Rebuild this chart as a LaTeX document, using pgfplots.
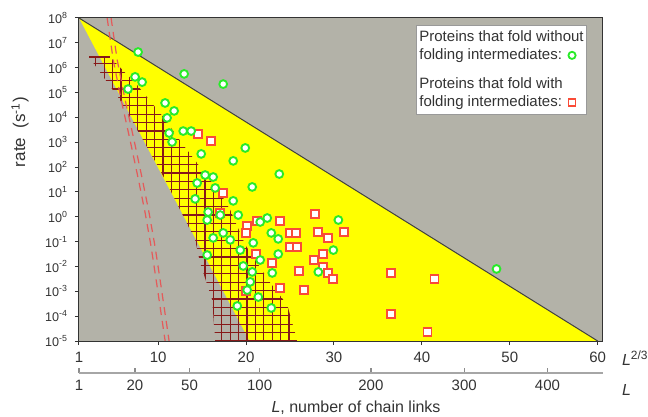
\documentclass[border=0pt]{standalone}
\usepackage{fontspec}
\setmainfont{Liberation Sans}
\usepackage{pgfplots}
\usepackage{pgfplotstable}
\pgfplotsset{compat=1.18}

\definecolor{bggray}{RGB}{179,178,168}
\definecolor{triyellow}{RGB}{255,255,0}
\definecolor{hatchred}{RGB}{135,25,25}
\definecolor{dashred}{RGB}{228,90,90}
\definecolor{ptgreen}{RGB}{40,235,40}
\definecolor{ptred}{RGB}{250,75,55}

\newsavebox\greenmark
\newsavebox\redmark

% x = L^{2/3}, ly = log10(rate / s^-1)
\pgfplotstableread{
x ly
7.72 6.63
12.96 5.75
17.40 5.34
7.38 5.63
8.18 5.42
6.58 5.14
10.79 4.58
11.82 4.26
11.02 3.98
12.85 3.45
13.76 3.45
11.25 3.37
11.59 3.01
19.91 2.77
14.90 2.53
18.54 2.25
23.78 1.72
15.35 1.68
16.26 1.60
20.70 1.20
14.44 1.36
16.49 1.16
14.21 0.72
18.54 0.64
15.69 0.19
15.58 -0.13
17.06 0.07
19.11 0.07
22.41 -0.05
21.61 -0.21
30.50 -0.13
22.87 -0.65
23.66 -0.89
17.40 -0.65
16.26 -0.85
18.20 -0.93
20.82 -1.05
19.34 -1.34
15.58 -1.54
23.66 -1.50
29.93 -1.34
21.61 -1.74
19.68 -1.98
20.70 -2.22
22.98 -2.26
28.22 -2.22
20.48 -2.62
20.13 -2.95
21.39 -3.23
19.00 -3.59
22.87 -3.67
48.49 -2.10
}\nointer

\pgfplotstableread{
x ly
14.55 3.33
16.03 3.05
17.40 0.96
17.06 0.15
27.88 0.11
23.89 -0.17
21.27 -0.17
20.13 -0.37
20.02 -0.65
25.03 -0.65
25.72 -0.65
28.22 -0.61
31.18 -0.61
29.36 -0.85
25.03 -1.22
25.83 -1.22
28.79 -1.50
27.77 -1.74
28.79 -2.02
29.36 -2.26
29.93 -2.50
26.06 -2.18
22.98 -1.86
21.16 -1.50
23.89 -2.87
26.63 -2.95
20.02 -2.99
36.53 -2.26
41.43 -2.50
36.53 -3.91
40.64 -4.64
}\withinter

% staircase band, hatched
\pgfplotstableread{
x ly
2.14 6.43
4.53 6.43
7.61 5.30
10.57 4.02
12.85 2.89
14.78 2.00
17.06 0.96
18.20 0.27
19.91 -1.13
22.75 -2.66
24.69 -3.55
25.83 -5.00
16.49 -5.00
16.15 -3.35
14.78 -1.86
14.21 -0.93
10.23 1.88
5.67 4.70
}\band

\begin{document}%
\sbox\greenmark{\tikz\draw[ptgreen,line width=0.9pt,fill=white] (0,0) circle (1.8pt);}%
\sbox\redmark{\tikz\draw[ptred,line width=0.8pt,fill=white] (-1.8pt,-1.8pt) rectangle (1.8pt,1.8pt);}%
\begin{tikzpicture}
\begin{axis}[
  name=main, at={(0,0)}, anchor=south west,
  scale only axis, width=262pt, height=161.5pt,
  xmin=1, xmax=60.6, ymin=-5, ymax=8,
  axis background/.style={fill=bggray},
  xtick={1,10,20,30,40,50,60},
  ytick={-5,-4,...,8},
  yticklabels={10\textsuperscript{-5},10\textsuperscript{-4},10\textsuperscript{-3},10\textsuperscript{-2},10\textsuperscript{-1},10\textsuperscript{0},10\textsuperscript{1},10\textsuperscript{2},10\textsuperscript{3},10\textsuperscript{4},10\textsuperscript{5},10\textsuperscript{6},10\textsuperscript{7},10\textsuperscript{8}},
  tick pos=left, tick align=outside, major tick length=2pt,
  /pgf/number format/assume math mode=true,
  xticklabel style={font=\fontsize{7.5}{8}\selectfont, text=black!80},
  yticklabel style={font=\fontsize{6.3}{7}\selectfont, text=black!80},
  axis line style={black!80, line width=0.5pt},
  tick style={black!80, line width=0.5pt},
  axis on top,
]
\addplot[fill=triyellow, draw=none] coordinates {(1,8) (60,-5) (20.4,-5)} -- cycle;
\addplot[black!75, line width=0.5pt] coordinates {(1,8) (60,-5)};

\addplot[only marks, mark=square*, mark size=2pt,
  mark options={draw=ptred, fill=white, line width=0.9pt}] table[x=x, y=ly] {\withinter};
\addplot[only marks, mark=*, mark size=1.95pt,
  mark options={draw=ptgreen, fill=white, line width=0.95pt}] table[x=x, y=ly] {\nointer};

% grid hatching clipped to the band
\addplot[draw=none, path picture={
    \draw[path picture={}, hatchred, line width=0.6pt, step=4.2pt]
      ([shift={(-2pt,-2pt)}]path picture bounding box.south west) grid
      (path picture bounding box.north east);}]
  table[x=x, y=ly] {\band} -- cycle;
\addplot[hatchred, line width=0.8pt] coordinates {(2.14,6.43) (4.53,6.43)};

\addplot[dashred, line width=0.6pt, dash pattern=on 4pt off 3pt] coordinates {
  (4.2,8) (4.9,6.3) (5.8,4.7) (6.8,3.1) (7.7,1.6) (8.5,0.2) (9.2,-1.2) (9.8,-2.6) (10.3,-3.8) (10.8,-5)};
\addplot[dashred, line width=0.6pt, dash pattern=on 4pt off 3pt] coordinates {
  (4.65,8) (5.35,6.3) (6.25,4.7) (7.25,3.1) (8.15,1.6) (8.95,0.2) (9.65,-1.2) (10.25,-2.6) (10.75,-3.8) (11.25,-5)};
\end{axis}

\begin{axis}[
  at={(0,-16pt)}, anchor=south west,
  scale only axis, width=262pt, height=20pt,
  xmin=1, xmax=60.6, ymin=0, ymax=1,
  axis x line*=bottom, axis y line=none,
  xtick={1,7.368,13.572,21.544,34.200,44.814,54.288},
  xticklabels={1,20,50,100,200,300,400},
  xtick align=inside, major tick length=2.5pt,
  xticklabel style={font=\fontsize{7.5}{8}\selectfont, text=black!80},
  axis line style={black!35, line width=1.2pt},
  tick style={black!45, line width=0.7pt},
]
\addplot[draw=none] coordinates {(1,0)};
\end{axis}

\node[rotate=90, font=\fontsize{8.5}{9}\selectfont, text=black!80]
  at ([xshift=-29.5pt,yshift=104.5pt]main.south west) {rate\ \ (s\textsuperscript{-1})};
\node[anchor=west, font=\fontsize{8}{9}\selectfont, text=black!80]
  at ([xshift=6pt,yshift=-8.5pt]main.south east) {\textit{L}\textsuperscript{2/3}};
\node[anchor=west, font=\fontsize{8}{9}\selectfont, text=black!80]
  at ([xshift=6pt,yshift=-24.5pt]main.south east) {\textit{L}};
\node[font=\fontsize{8}{9}\selectfont, text=black!80]
  at ([xshift=138.5pt,yshift=-33.5pt]main.south west) {\textit{L}, number of chain links};

\node[anchor=north west, draw=black!40, fill=white, inner xsep=1.5pt, inner ysep=2.5pt,
  align=left, font=\fontsize{7.5}{9}\selectfont, text=black!80]
  at ([xshift=168.5pt,yshift=-3.5pt]main.north west)
  {Proteins that fold without\\folding intermediates: \raisebox{-0.3pt}{\usebox\greenmark}\\[5.5pt]
   Proteins that fold with\\folding intermediates: \raisebox{-0.3pt}{\usebox\redmark}};

\pgfresetboundingbox
\path ([xshift=-39.5pt,yshift=-37.5pt]main.south west) rectangle ([xshift=22.5pt,yshift=9pt]main.north east);
\end{tikzpicture}%
\end{document}
